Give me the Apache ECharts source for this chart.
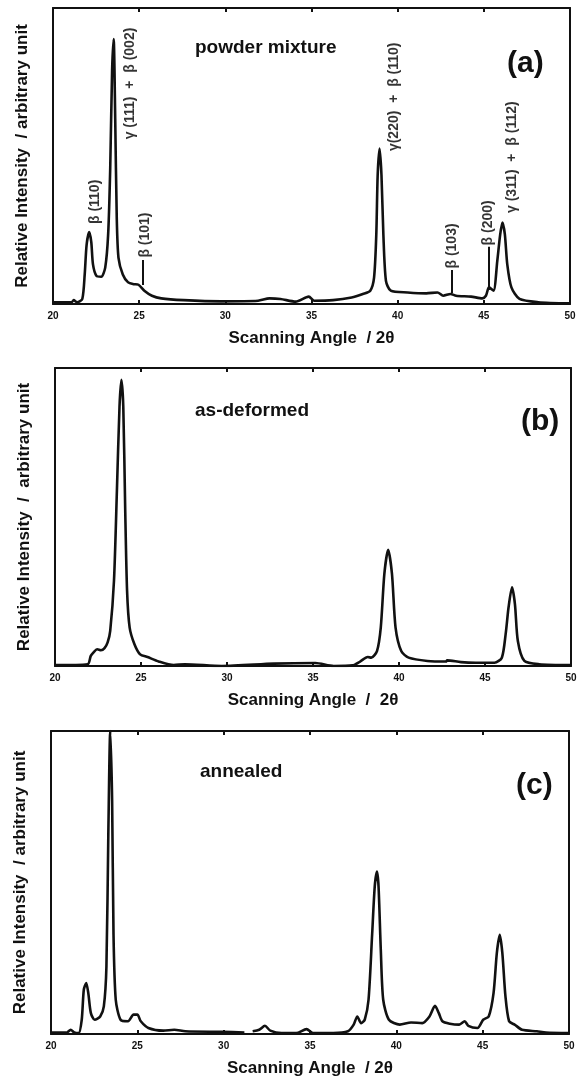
<!DOCTYPE html>
<html>
<head>
<meta charset="utf-8">
<script src="https://cdn.jsdelivr.net/npm/echarts/dist/echarts.min.js"></script>
<style>
  html, body { margin: 0; padding: 0; background: #fff; }
  #chart { width: 581px; height: 1082px; }
</style>
</head>
<body>
<div id="chart"></div>
<script>
// x ticks (2 theta)
var xTicks = [20, 25, 30, 35, 40, 45, 50];

// (a) powder mixture
var angleA = [20.0, 21.08, 21.2, 21.4, 21.7, 21.84, 21.95, 22.1, 22.22, 22.32, 22.52, 22.8, 23.03, 23.2, 23.32, 23.43, 23.52, 23.61, 23.7, 23.8, 24.05, 24.36, 24.68, 24.96, 25.3, 25.74, 26.28, 27.58, 29.75, 31.9, 32.56, 33.2, 34.08, 34.84, 35.16, 36.25, 37.33, 37.98, 38.41, 38.63, 38.76, 38.84, 38.95, 39.06, 39.17, 39.32, 39.6, 40.58, 41.66, 42.31, 42.64, 43.07, 43.39, 44.26, 44.91, 45.12, 45.3, 45.56, 45.78, 45.95, 46.08, 46.22, 46.36, 46.6, 47.07, 48.16, 50.0];
var intA = [0.6, 0.6, 1.3, 0.6, 1.7, 10, 20, 24.3, 21, 13.4, 9.5, 9.2, 12.3, 23.5, 45.8, 79, 89.5, 62.6, 29, 15.6, 10, 7.3, 6.7, 6.5, 4.5, 2.8, 1.9, 1.3, 0.9, 1.1, 1.9, 1.7, 0.8, 2.5, 1.1, 1.3, 2.2, 3.4, 4.5, 8.9, 23.5, 43.6, 52.5, 43.6, 23.5, 7.8, 4.5, 3.9, 3.6, 3.9, 2.8, 3.4, 2.8, 2.5, 1.9, 2.8, 5.6, 4.5, 14.5, 23.5, 27.5, 23.5, 13.4, 5.6, 1.7, 0.6, 0.2];

// (b) as-deformed
var angleB = [20.0, 21.9, 22.08, 22.23, 22.45, 22.67, 22.88, 23.06, 23.21, 23.43, 23.6, 23.75, 23.86, 23.97, 24.08, 24.19, 24.34, 24.62, 24.95, 25.38, 26.03, 26.9, 27.55, 29.7, 32.75, 35.14, 36.2, 37.3, 37.74, 38.18, 38.39, 38.72, 38.94, 39.15, 39.37, 39.59, 39.8, 40.13, 40.56, 41.65, 42.73, 42.8, 43.6, 44.47, 45.55, 45.98, 46.2, 46.37, 46.57, 46.74, 46.91, 47.29, 48.15, 50.0];
var intB = [0.3, 0.6, 3.4, 4.5, 5.6, 5.3, 6, 7.9, 11.8, 28.7, 59, 87, 96, 87, 53, 25.3, 12.9, 7.3, 3.9, 3.0, 1.5, 0.3, 0.6, 0, 0.8, 1.0, 0, 0.2, 1.5, 3, 2.8, 5, 12.9, 31, 39, 31, 12.9, 5, 2.8, 1.7, 1.5, 1.9, 1.3, 1.1, 1.1, 2.8, 10.7, 19.7, 26.4, 20.8, 8.4, 1.7, 0.6, 0.3];

// (c) annealed ('-' = break in the trace)
var angleC = [20.0, 20.92, 21.14, 21.35, 21.6, 21.78, 21.9, 22.04, 22.16, 22.31, 22.53, 22.85, 23.06, 23.21, 23.32, 23.43, 23.54, 23.62, 23.75, 24.03, 24.46, 24.78, 25.0, 25.2, 25.64, 26.5, 27.14, 27.78, 29.92, 31.2, 31.45, 31.68, 32.06, 32.39, 32.7, 33.35, 34.2, 34.8, 35.17, 36.35, 37.2, 37.53, 37.74, 37.96, 38.17, 38.39, 38.6, 38.75, 38.88, 38.97, 39.1, 39.24, 39.57, 40.2, 40.85, 41.5, 41.92, 42.24, 42.46, 42.67, 43.1, 43.64, 43.96, 44.17, 44.7, 45.03, 45.35, 45.63, 45.82, 45.99, 46.14, 46.32, 46.53, 46.85, 47.28, 48.14, 48.67, 50.0];
var intC = [0.5, 0.5, 1.4, 0.5, 0.3, 4.7, 14.6, 16.8, 13.5, 6.9, 4.7, 5.8, 9.1, 22.3, 66, 100, 77, 33, 11.3, 4.7, 4.2, 6.4, 6.4, 4.2, 2, 1.1, 1.4, 0.9, 0.7, 0.5, '-', 0.9, 1.4, 2.7, 1.1, 0.3, 0.3, 1.6, 0.3, 0.3, 0.9, 3.1, 5.8, 3.6, 4.7, 11.3, 33, 48.7, 53.6, 48.7, 27.8, 11.3, 4.7, 3.1, 3.8, 3.6, 5.8, 9.3, 6.9, 4.2, 3.4, 3.1, 4.2, 2.7, 2.0, 4.7, 5.8, 13.5, 26.7, 32.7, 26.7, 12.4, 4.2, 3.1, 1.4, 0.9, 0.5, 0.3];

// peak labels for (a): [angle, intensity, text]
var peakLabels = [
  [22.45, 34.5, 'β (110)'],
  [24.47, 74.5, 'γ (111)  +  β (002)'],
  [25.32, 23.3, 'β (101)'],
  [39.8, 70, 'γ(220)  +  β (110)'],
  [43.15, 19.6, 'β (103)'],
  [45.24, 27.4, 'β (200)'],
  [46.66, 49.6, 'γ (311)  +  β (112)']
];
// marker sticks for (a): [angle, from, to]
var peakSticks = [
  [25.2, 6.4, 14.9],
  [43.16, 3.7, 11.5],
  [45.3, 4.7, 19.3]
];

var panelNames = ['powder mixture', 'as-deformed', 'annealed'];
var panelTags = ['(a)', '(b)', '(c)'];
var yNames = ['Relative Intensity  / arbitrary unit', 'Relative Intensity  /  arbitrary unit', 'Relative Intensity  / arbitrary unit'];
var xNames = ['Scanning Angle  / 2θ', 'Scanning Angle  /  2θ', 'Scanning Angle  / 2θ'];

function pairs(xs, ys) {
  return xs.map(function (x, i) { return [x, ys[i]]; });
}

var grids = [
  {left: 53, top: 8, width: 517, height: 296},
  {left: 55, top: 368, width: 516, height: 298},
  {left: 51, top: 731, width: 518, height: 303}
];
// [name left, name top, tag left, tag top]
var nameSpots = [[190, 33, 502, 44], [190, 396, 516, 402], [195, 757, 511, 766]];

var font = '"Liberation Sans", Arial, sans-serif';
var ink = '#111';

var xAxes = [], yAxes = [], series = [], titles = [];
var curves = [pairs(angleA, intA), pairs(angleB, intB), pairs(angleC, intC)];

grids.forEach(function (g, i) {
  // bottom axis
  xAxes.push({
    type: 'value', gridIndex: i, min: 20, max: 50, interval: 5,
    name: xNames[i], nameLocation: 'middle', nameGap: 26,
    nameTextStyle: {fontFamily: font, fontWeight: 'bold', fontSize: 17, color: ink},
    axisLine: {onZero: false, lineStyle: {color: ink, width: 2}},
    axisTick: {inside: true, length: 4, lineStyle: {color: ink, width: 2}},
    axisLabel: {fontFamily: font, fontWeight: 'bold', fontSize: 10, color: ink, margin: 7},
    splitLine: {show: false}
  });
  // top frame
  xAxes.push({
    type: 'value', gridIndex: i, min: 20, max: 50, interval: 5, position: 'top',
    axisLine: {onZero: false, lineStyle: {color: ink, width: 2}},
    axisTick: {inside: true, length: 4, lineStyle: {color: ink, width: 2}},
    axisLabel: {show: false}, splitLine: {show: false}
  });
  yAxes.push({
    type: 'value', gridIndex: i, min: 0, max: 100,
    name: yNames[i], nameLocation: 'middle', nameGap: 22, nameRotate: 90,
    nameTextStyle: {fontFamily: font, fontWeight: 'bold', fontSize: 17, color: ink},
    axisLine: {show: true, onZero: false, lineStyle: {color: ink, width: 2}},
    axisTick: {show: false}, axisLabel: {show: false}, splitLine: {show: false}
  });
  // right frame
  yAxes.push({
    type: 'value', gridIndex: i, min: 0, max: 100, position: 'right',
    axisLine: {show: true, onZero: false, lineStyle: {color: ink, width: 2}},
    axisTick: {show: false}, axisLabel: {show: false}, splitLine: {show: false}
  });

  var line = {
    type: 'line', xAxisIndex: i * 2, yAxisIndex: i * 2,
    data: curves[i], symbol: 'none', smooth: 0.25, connectNulls: false,
    lineStyle: {color: ink, width: 2.6}, clip: true, animation: false
  };
  if (i === 0) {
    line.markLine = {
      symbol: 'none', silent: true, animation: false,
      label: {show: false},
      lineStyle: {color: ink, width: 2, type: 'solid'},
      data: peakSticks.map(function (s) {
        return [{coord: [s[0], s[1]]}, {coord: [s[0], s[2]]}];
      })
    };
  }
  series.push(line);

  titles.push({
    text: panelNames[i], left: nameSpots[i][0], top: nameSpots[i][1],
    textStyle: {fontFamily: font, fontWeight: 'bold', fontSize: 19, color: ink}
  });
  titles.push({
    text: panelTags[i], left: nameSpots[i][2], top: nameSpots[i][3],
    textStyle: {fontFamily: font, fontWeight: 'bold', fontSize: 30, color: ink}
  });
});

// peak names, rotated, on panel (a)
series.push({
  type: 'scatter', xAxisIndex: 0, yAxisIndex: 0, symbolSize: 0,
  data: peakLabels, animation: false, silent: true,
  label: {
    show: true, position: 'inside', rotate: 90,
    formatter: function (p) { return p.data[2]; },
    fontFamily: font, fontWeight: 'bold', fontSize: 14, color: '#000'
  }
});

var myChart = echarts.init(document.getElementById('chart'));
myChart.setOption({
  backgroundColor: '#fff',
  animation: false,
  title: titles,
  grid: grids,
  xAxis: xAxes,
  yAxis: yAxes,
  series: series
});
</script>
</body>
</html>
